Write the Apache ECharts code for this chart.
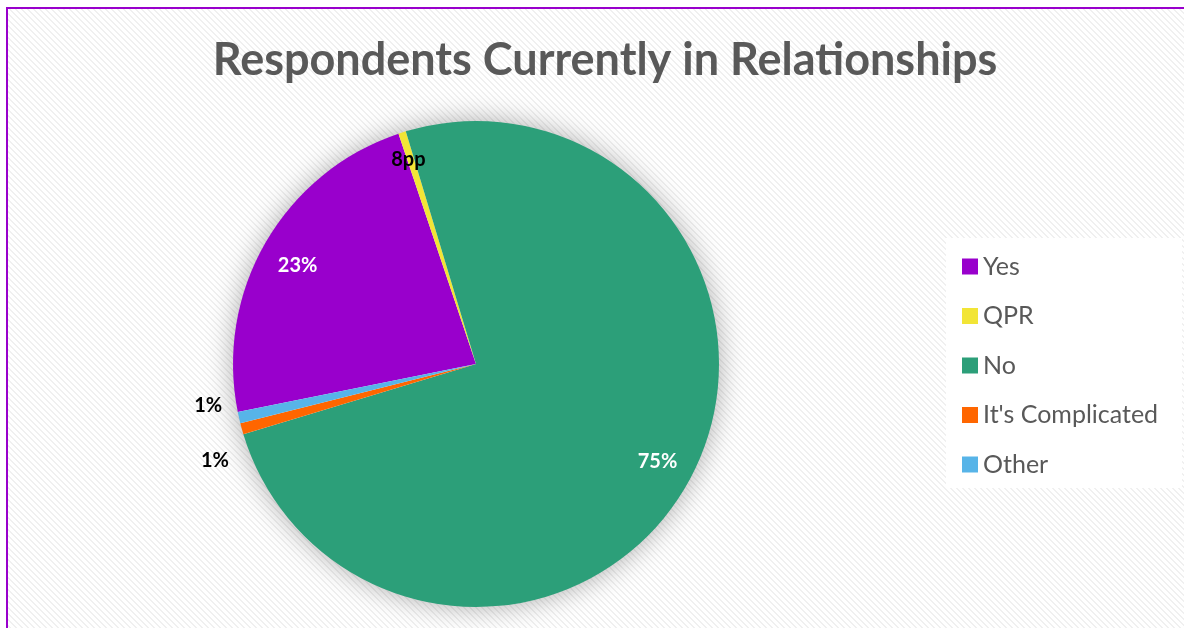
<!DOCTYPE html>
<html>
<head>
<meta charset="utf-8">
<script src="https://cdn.jsdelivr.net/npm/echarts@6/dist/echarts.min.js"></script>
<style>
  html, body { margin: 0; padding: 0; background: #ffffff; }
  #chart { width: 1184px; height: 628px; }
</style>
</head>
<body>
<div id="chart"></div>
<script>
// Survey answers (percent of respondents)
const categories = ['Yes', 'QPR', 'No', "It's Complicated", 'Other'];
const shares = [23, 0.5, 75, 0.75, 0.75];
const colors = ['#9900cc', '#f2e536', '#2c9f79', '#ff6600', '#57b4e8'];
// Text shown on each slice (null = show rounded percent)
const sliceLabels = [null, '8pp', null, null, null];

// Faint diagonal-stripe texture for the plot background
function stripeTile() {
  const c = document.createElement('canvas');
  c.width = 6; c.height = 6;
  const ctx = c.getContext('2d');
  ctx.fillStyle = '#ffffff';
  ctx.fillRect(0, 0, 6, 6);
  ctx.fillStyle = '#f0f0f0';
  for (let y = 0; y < 6; y++) {
    for (let x = 0; x < 6; x++) {
      if (((x - y) % 6 + 6) % 6 < 2) ctx.fillRect(x, y, 1, 1);
    }
  }
  return c;
}

const chart = echarts.init(document.getElementById('chart'), null, { renderer: 'canvas' });

const center = [476, 364];
const R = 243;
const startAngle = 191.4;
const font = 'Lato, "Open Sans", sans-serif';

const pieData = categories.map((name, i) => ({
  name,
  value: shares[i],
  itemStyle: { color: colors[i] }
}));

// Label ring: inner labels sit near the outer edge, small slices get outside labels
const labelData = categories.map((name, i) => {
  const outside = shares[i] < 0.6 ? false : shares[i] < 1;
  return {
    name,
    value: shares[i],
    label: {
      position: outside ? 'outside' : 'inside',
      color: (i === 0 || i === 2) ? '#ffffff' : '#000000'
    }
  };
});

chart.setOption({
  backgroundColor: '#ffffff',
  color: colors,
  title: {
    text: 'Respondents Currently in Relationships',
    left: 600,
    top: 33,
    textAlign: 'center',
    textStyle: { fontFamily: font, fontWeight: 'bold', fontSize: 45, color: '#595959' }
  },
  graphic: [
    {
      type: 'rect', z: -20, silent: true,
      shape: { x: 7, y: 8, width: 1200, height: 640 },
      style: { fill: { image: stripeTile(), repeat: 'repeat' }, stroke: '#9900cc', lineWidth: 2 }
    },
    {
      type: 'rect', z: -10, silent: true,
      shape: { x: 946, y: 238, width: 236, height: 250 },
      style: { fill: '#ffffff' }
    }
  ],
  legend: {
    orient: 'vertical',
    left: 957,
    top: 249,
    itemWidth: 16,
    itemHeight: 16,
    itemGap: 24.5,
    icon: 'rect',
    selectedMode: false,
    data: categories,
    textStyle: { fontFamily: font, fontSize: 25, color: '#595959', lineHeight: 24 }
  },
  series: [
    {
      // soft shadow behind the whole pie
      type: 'pie', silent: true, center, radius: [0, R - 1],
      label: { show: false }, labelLine: { show: false },
      itemStyle: { color: '#ffffff', shadowBlur: 28, shadowColor: 'rgba(0,0,0,0.35)' },
      data: [{ value: 1, name: '__shadow' }],
      legendHoverLink: false, z: 1
    },
    {
      type: 'pie', name: 'Relationships', center, radius: [0, R],
      startAngle, clockwise: true, silent: true,
      label: { show: false }, labelLine: { show: false },
      itemStyle: { borderWidth: 0 },
      data: pieData, z: 2
    },
    {
      type: 'pie', name: 'labels', center, radius: [R - 80, R],
      startAngle, clockwise: true, silent: true,
      avoidLabelOverlap: false,
      itemStyle: { color: 'rgba(0,0,0,0)' },
      labelLine: { show: false, length: 5, length2: 0 },
      label: {
        show: true,
        fontFamily: font, fontWeight: 'bold', fontSize: 20,
        formatter: p => sliceLabels[p.dataIndex] || Math.round(p.percent) + '%'
      },
      labelLayout: p => {
        if (p.dataIndex === 4) return { dx: -7, dy: -13 };
        if (p.dataIndex === 3) return { dx: -3, dy: 30 };
        if (p.dataIndex === 1) return { dx: -5, dy: -8 };
        if (p.dataIndex === 0) return { dy: 5 };
        return {};
      },
      data: labelData, z: 3
    }
  ]
});
</script>
</body>
</html>
